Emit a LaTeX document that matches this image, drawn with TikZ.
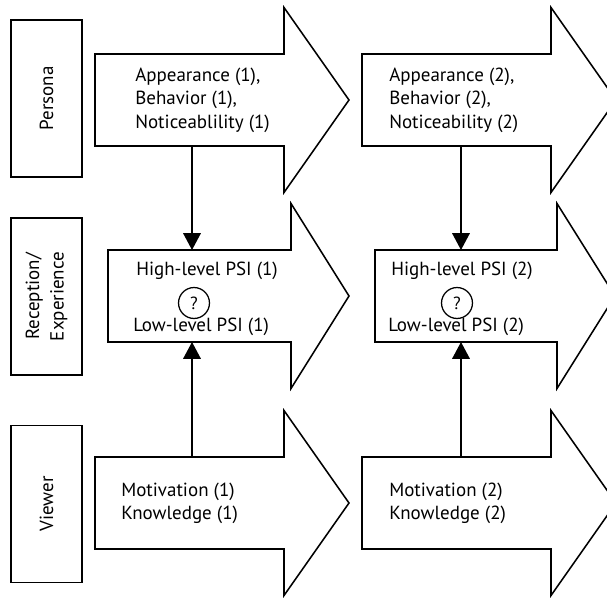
\documentclass[tikz,border=0pt]{standalone}
\usepackage{fontspec}
\setmainfont{PT Sans}
\usetikzlibrary{arrows.meta,positioning}
\tikzset{>={Triangle[length=12pt,width=12.5pt]}}
\tikzset{
  labelbox/.style={draw, line width=1.1pt, rotate=90, minimum width=111.6pt, minimum height=50.5pt, inner sep=0pt, font=\fontsize{13.5}{17.5}\selectfont},
  bigarrow/.style={draw, line width=1.1pt, line join=miter},
  txt/.style={anchor=west, align=left, inner sep=0pt, font=\fontsize{13.5}{16.8}\selectfont},
  qmark/.style={draw, circle, line width=0.9pt, minimum size=22pt, inner sep=0pt, font=\fontsize{12.5}{14}\selectfont},
  link/.style={line width=1.1pt}
}

\begin{document}
\begin{tikzpicture}[x=0.025cm,y=-0.025cm]
            \useasboundingbox (0,0) rectangle (607,599);

            % side labels
            \node[labelbox] (persona) at (46.5,98.5) {Persona};
            \node[labelbox,align=center] (reception) at (46.5,296.5) {Reception/\\Experience};
            \node[labelbox] (viewer) at (46.5,504) {Viewer};

            % big arrows: left, middle, body length, head length
            \foreach \x/\y/\b/\h in {95/100/189/65, 362/100/189/65, 108/296/183/58, 375/296/182/58, 95/503/189/65, 362/503/189/65}
            {
            \draw[bigarrow] (\x,\y-46) -- ++(\b,0) -- ++(0,-46.5) -- (\x+\b+\h,\y) -- (\x+\b,\y+92.5) -- ++(0,-46.5) -- (\x,\y+46) -- cycle;
            }

            % persona
            \node[txt] (pers1) at (135,100) {Appearance (1),\\Behavior (1),\\Noticeablility (1)};
            \node[txt] (pers2) at (389,100) {Appearance (2),\\Behavior (2),\\Noticeability (2)};

            % reception
            \node[txt] (high1) at (136,271) {High-level PSI (1)};
            \node[qmark] (q1) at (194,303) {?};
            \node[txt] (low1) at (133,327) {Low-level PSI (1)};
            \node[txt] (high2) at (391,271) {High-level PSI (2)};
            \node[qmark] (q2) at (457,303) {?};
            \node[txt] (low2) at (388,327) {Low-level PSI (2)};

            % viewer
            \node[txt] (view1) at (121,503.5) {Motivation (1)\\Knowledge (1)};
            \node[txt] (view2) at (389,503.5) {Motivation (2)\\Knowledge (2)};

            % connector ends
            \coordinate (pbot1) at (192,147);
            \coordinate (rtop1) at (192,250);
            \coordinate (rbot1) at (192,342);
            \coordinate (vtop1) at (192,457);
            \coordinate (pbot2) at (461,147);
            \coordinate (rtop2) at (461,250);
            \coordinate (rbot2) at (461,342);
            \coordinate (vtop2) at (461,457);

            \draw[link,->] (pbot1) -- (rtop1);
            \draw[link,->] (vtop1) -- (rbot1);
            \draw[link,->] (pbot2) -- (rtop2);
            \draw[link,->] (vtop2) -- (rbot2);
\end{tikzpicture}
\end{document}
